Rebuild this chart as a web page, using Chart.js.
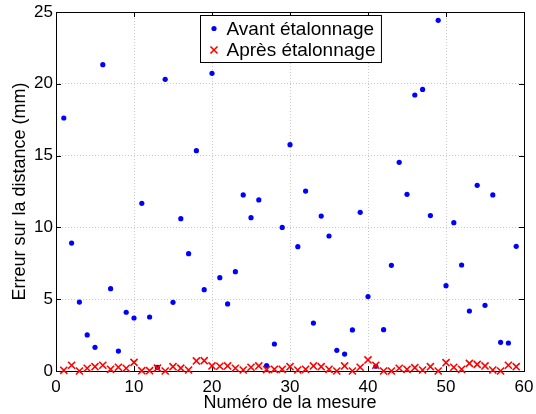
<!DOCTYPE html>
<html>
<head>
<meta charset="utf-8">
<script src="https://cdn.jsdelivr.net/npm/chart.js@4"></script>
<style>
  html, body { margin: 0; padding: 0; background: #fff; }
  #chart { display: block; }
</style>
</head>
<body>
<canvas id="chart" width="536" height="414"></canvas>
<script>
// numéros de mesure
const mesures = [1, 2, 3, 4, 5, 6, 7, 8, 9, 10, 11, 12, 13, 14, 15, 16, 17, 18, 19, 20,
  21, 22, 23, 24, 25, 26, 27, 28, 29, 30, 31, 32, 33, 34, 35, 36, 37, 38, 39, 40,
  41, 42, 43, 44, 45, 46, 47, 48, 49, 50, 51, 52, 53, 54, 55, 56, 57, 58, 59];

// erreur (mm) avant étalonnage
const avant = [17.62, 8.91, 4.80, 2.51, 1.65, 21.33, 5.73, 1.39, 4.09, 3.69,
  11.68, 3.76, 0.25, 20.31, 4.78, 10.61, 8.17, 15.34, 5.66, 20.73,
  6.50, 4.67, 6.92, 12.26, 10.68, 11.91, 0.37, 1.88, 10.00, 15.76,
  8.66, 12.53, 3.34, 10.79, 9.40, 1.44, 1.18, 2.86, 11.05, 5.18,
  0.33, 2.88, 7.36, 14.53, 12.30, 19.22, 19.61, 10.82, 24.42, 5.94,
  10.33, 7.38, 4.18, 12.93, 4.57, 12.26, 2.00, 1.95, 8.68];

// erreur (mm) après étalonnage
const apres = [0.05, 0.40, 0.00, 0.19, 0.30, 0.40, 0.12, 0.26, 0.19, 0.60,
  0.02, 0.02, 0.20, 0.00, 0.30, 0.20, 0.07, 0.70, 0.72, 0.35,
  0.33, 0.35, 0.19, 0.07, 0.26, 0.35, 0.10, 0.12, 0.12, 0.30,
  0.07, 0.12, 0.35, 0.30, 0.12, 0.00, 0.35, 0.00, 0.26, 0.77,
  0.40, 0.00, 0.00, 0.19, 0.12, 0.23, 0.07, 0.30, 0.00, 0.58,
  0.26, 0.12, 0.53, 0.46, 0.35, 0.07, 0.00, 0.40, 0.30];

const xTicks = [0, 10, 20, 30, 40, 50, 60];
const yTicks = [0, 5, 10, 15, 20, 25];

const FONT = "'Liberation Sans', Arial, Helvetica, sans-serif";

function points(values) {
  return mesures.map((m, i) => ({ x: m, y: values[i] }));
}

// cadre noir + graduations vers l'intérieur (style MATLAB)
const frame = {
  id: 'frame',
  beforeDatasetsDraw(chart) {
    const { ctx, chartArea: a, scales } = chart;
    const tl = 5;
    ctx.save();
    ctx.strokeStyle = '#000';
    ctx.lineWidth = 1;
    ctx.beginPath();
    scales.x.ticks.forEach(t => {
      const px = Math.round(scales.x.getPixelForValue(t.value)) + 0.5;
      ctx.moveTo(px, a.bottom); ctx.lineTo(px, a.bottom - tl);
      ctx.moveTo(px, a.top); ctx.lineTo(px, a.top + tl);
    });
    scales.y.ticks.forEach(t => {
      const py = Math.round(scales.y.getPixelForValue(t.value)) + 0.5;
      ctx.moveTo(a.left, py); ctx.lineTo(a.left + tl, py);
      ctx.moveTo(a.right, py); ctx.lineTo(a.right - tl, py);
    });
    ctx.stroke();
    ctx.strokeRect(Math.round(a.left) + 0.5, Math.round(a.top) + 0.5,
      Math.round(a.right - a.left), Math.round(a.bottom - a.top));
    ctx.restore();
  }
};

// légende encadrée en haut du graphe
const boxLegend = {
  id: 'boxLegend',
  afterDraw(chart) {
    const { ctx, chartArea: a } = chart;
    const sets = chart.data.datasets;
    ctx.save();
    ctx.font = '19px ' + FONT;
    const tw = Math.max(...sets.map(d => ctx.measureText(d.label).width));
    const w = 26 + tw + 6;
    const h = 47;
    const x0 = Math.round((a.left + a.right) / 2 - w / 2) + 0.5;
    const y0 = Math.round(a.top + 3) + 0.5;
    ctx.fillStyle = '#fff';
    ctx.fillRect(x0, y0, w, h);
    ctx.strokeStyle = '#000';
    ctx.lineWidth = 1;
    ctx.strokeRect(x0, y0, w, h);
    sets.forEach((d, i) => {
      const cy = y0 + 13 + i * 21.5;
      ctx.fillStyle = d.backgroundColor;
      ctx.strokeStyle = d.borderColor;
      ctx.lineWidth = d.borderWidth;
      Chart.helpers.drawPoint(ctx, {
        pointStyle: d.pointStyle,
        radius: d.pointRadius,
        borderWidth: d.borderWidth,
        rotation: 0
      }, x0 + 13.5, cy);
      ctx.fillStyle = '#000';
      ctx.textBaseline = 'middle';
      ctx.textAlign = 'left';
      ctx.fillText(d.label, x0 + 26, cy + 1);
    });
    ctx.restore();
  }
};

const ctx = document.getElementById('chart').getContext('2d');
new Chart(ctx, {
  type: 'scatter',
  data: {
    datasets: [{
      label: 'Avant étalonnage',
      data: points(avant),
      pointStyle: 'circle',
      pointRadius: 2.6,
      backgroundColor: '#0000ff',
      borderColor: '#0000ff',
      borderWidth: 0,
      clip: false,
      order: 1
    }, {
      label: 'Après étalonnage',
      data: points(apres),
      pointStyle: 'crossRot',
      pointRadius: 5,
      backgroundColor: '#ff0000',
      borderColor: '#ff0000',
      borderWidth: 1.6,
      clip: false,
      order: 0
    }]
  },
  options: {
    responsive: false,
    animation: false,
    devicePixelRatio: 1,
    layout: { padding: { left: 0, right: 12, top: 12, bottom: 0 } },
    plugins: {
      legend: { display: false },
      tooltip: { enabled: false }
    },
    scales: {
      x: {
        type: 'linear',
        min: 0,
        max: 60,
        afterBuildTicks: s => { s.ticks = xTicks.map(v => ({ value: v })); },
        afterFit: s => { s.height = 43; s.paddingLeft = 0; s.paddingRight = 0; },
        grid: { color: '#c8c8c8', lineWidth: 1, drawTicks: false },
        border: { display: false, dash: [1, 2] },
        ticks: { color: '#000', padding: 6, maxRotation: 0, font: { family: FONT, size: 17 } },
        title: {
          display: true,
          text: 'Numéro de la mesure',
          color: '#000',
          padding: { top: 0, bottom: 0 },
          font: { family: FONT, size: 18 }
        }
      },
      y: {
        type: 'linear',
        min: 0,
        max: 25,
        afterBuildTicks: s => { s.ticks = yTicks.map(v => ({ value: v })); },
        afterFit: s => { s.width = 56; s.paddingTop = 0; s.paddingBottom = 0; },
        grid: { color: '#c8c8c8', lineWidth: 1, drawTicks: false },
        border: { display: false, dash: [1, 2] },
        ticks: { color: '#000', padding: 3, font: { family: FONT, size: 17 } },
        title: {
          display: true,
          text: 'Erreur sur la distance (mm)',
          color: '#000',
          padding: { top: 9, bottom: 0 },
          font: { family: FONT, size: 18 }
        }
      }
    }
  },
  plugins: [frame, boxLegend]
});
</script>
</body>
</html>
